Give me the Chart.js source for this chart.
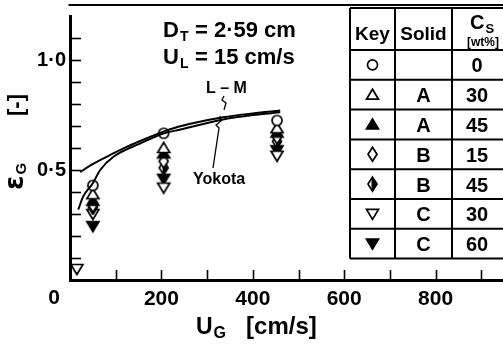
<!DOCTYPE html>
<html>
<head>
<meta charset="utf-8">
<script src="https://cdn.jsdelivr.net/npm/chart.js@4.4.1/dist/chart.umd.min.js"></script>
<style>
  html, body { margin: 0; padding: 0; background: #fff; overflow: hidden; }
  #wrap { width: 503px; height: 344px; overflow: hidden; position: relative; }
  canvas { display: block; }
</style>
</head>
<body>
<div id="wrap"><canvas id="holdup" width="540" height="344"></canvas></div>
<script>
// gas velocity of the measured clusters [cm/s]
const ugCluster = [50, 205, 453];
// gas holdup per key
const epsCs0 = [0.43, 0.667, 0.725];
const epsA30 = [0.39, 0.60, 0.69];
const epsA45 = [0.36, 0.575, 0.67];
const epsB15 = [0.34, 0.54, 0.65];
const epsB45 = [0.33, 0.51, 0.63];
const ugC30 = [15, 50, 205, 453];
const epsC30 = [0.05, 0.30, 0.42, 0.565];
const epsC60 = [0.245, 0.46, 0.59];

// correlation curves
const ugLM = [22, 44, 80, 124, 175, 219, 263, 335, 400, 460];
const epsLM = [0.49, 0.52, 0.56, 0.605, 0.65, 0.685, 0.71, 0.74, 0.757, 0.77];
const ugYokota = [18, 29, 50, 66, 95, 153, 206, 240, 335, 400, 460];
const epsYokota = [0.32, 0.38, 0.44, 0.50, 0.56, 0.62, 0.667, 0.683, 0.73, 0.75, 0.762];

// legend table
const tableKeys = ['circle', 'triUp', 'triUpFill', 'diamond', 'diamondHalf', 'triDown', 'triDownFill'];
const tableSolids = ['', 'A', 'A', 'B', 'B', 'C', 'C'];
const tableCs = ['0', '30', '45', '15', '45', '30', '60'];

const xTickLabels = [200, 400, 600, 800];
const yTickLabels = [0.5, 1.0];

function pts(xs, ys) {
  return ys.map((y, i) => ({ x: xs[i], y: y }));
}

// draw one marker shape centred at cx, cy
function drawMarker(g, kind, cx, cy) {
  g.save();
  g.lineWidth = 1.7;
  g.strokeStyle = '#000';
  g.fillStyle = '#fff';
  g.beginPath();
  if (kind === 'circle') {
    g.arc(cx, cy, 5, 0, Math.PI * 2);
  } else if (kind === 'triUp' || kind === 'triUpFill') {
    g.moveTo(cx, cy - 5.5); g.lineTo(cx + 6, cy + 4.5); g.lineTo(cx - 6, cy + 4.5); g.closePath();
  } else if (kind === 'triDown' || kind === 'triDownFill') {
    g.moveTo(cx - 6, cy - 4.5); g.lineTo(cx + 6, cy - 4.5); g.lineTo(cx, cy + 5.5); g.closePath();
  } else {
    g.moveTo(cx, cy - 7); g.lineTo(cx + 4.5, cy); g.lineTo(cx, cy + 7); g.lineTo(cx - 4.5, cy); g.closePath();
  }
  if (kind === 'triUpFill' || kind === 'triDownFill') g.fillStyle = '#000';
  g.fill();
  g.stroke();
  if (kind === 'diamondHalf') {
    g.beginPath();
    g.moveTo(cx - 1, cy - 5.5); g.lineTo(cx, cy - 7); g.lineTo(cx + 4.5, cy); g.lineTo(cx, cy + 7); g.lineTo(cx - 1, cy + 5.5);
    g.closePath();
    g.fillStyle = '#000';
    g.fill();
  }
  g.restore();
}

function markerImage(kind) {
  const c = document.createElement('canvas');
  c.width = 16; c.height = 16;
  drawMarker(c.getContext('2d'), kind, 8, 8);
  return c;
}

function scatter(label, data, kind) {
  return {
    type: 'scatter', label: label, data: data,
    pointStyle: markerImage(kind), pointRadius: 6, pointHoverRadius: 6
  };
}

function curve(label, data) {
  return {
    type: 'line', label: label, data: data,
    borderColor: '#000', borderWidth: 2, pointRadius: 0,
    cubicInterpolationMode: 'monotone', fill: false
  };
}

const FONT = '"Liberation Sans", Arial, sans-serif';

// text with a subscript, returns end x
function subText(g, main, sub, x, y, size, subSize) {
  g.font = 'bold ' + size + 'px ' + FONT;
  g.fillText(main, x, y);
  let w = g.measureText(main).width;
  g.font = 'bold ' + subSize + 'px ' + FONT;
  g.fillText(sub, x + w + 1, y + size * 0.18);
  return x + w + 1 + g.measureText(sub).width;
}

const decor = {
  id: 'decor',
  afterDraw(chart) {
    const g = chart.ctx;
    const xs = chart.scales.x, ys = chart.scales.y;
    const a = chart.chartArea;
    g.save();
    g.strokeStyle = '#000';
    g.fillStyle = '#000';

    // frame: top line, inward ticks
    g.lineWidth = 2;
    g.beginPath(); g.moveTo(a.left - 1.5, 5); g.lineTo(540, 5); g.stroke();
    g.lineWidth = 1.6;
    for (let v = 0.1; v < 1.2; v += 0.1) {
      const py = Math.round(ys.getPixelForValue(v)) + 0.5;
      g.beginPath(); g.moveTo(a.left, py); g.lineTo(a.left + 11, py); g.stroke();
    }
    for (let v = 100; v < 1000; v += 100) {
      const px = Math.round(xs.getPixelForValue(v)) + 0.5;
      g.beginPath(); g.moveTo(px, a.bottom); g.lineTo(px, a.bottom - 10); g.stroke();
    }

    // origin label
    g.font = 'bold 21px ' + FONT;
    g.textAlign = 'center'; g.textBaseline = 'alphabetic';
    g.fillText('0', 54, 304);

    // axis titles
    g.textAlign = 'left';
    let ex = subText(g, 'U', 'G', 196, 334, 23, 16);
    g.font = 'bold 24px ' + FONT;
    g.fillText('[cm/s]', ex + 20, 334);

    g.save();
    g.translate(23, 190);
    g.rotate(-Math.PI / 2);
    g.font = 'bold 26px "DejaVu Sans", sans-serif';
    g.fillText('\u03B5', 0, 0);
    let ew = g.measureText('\u03B5').width;
    g.font = 'bold 15px ' + FONT;
    g.fillText('G', ew + 1, 3);
    g.font = 'bold 22px ' + FONT;
    g.fillText('[-]', 74, 0);
    g.restore();

    // conditions
    subText(g, 'D', 'T', 163, 37, 22, 14);
    subText(g, 'U', 'L', 163, 64, 22, 14);
    g.font = 'bold 22px ' + FONT;
    g.fillText('= 2\u00B759 cm', 195, 37);
    g.fillText('= 15 cm/s', 195, 64);

    // curve labels and leaders
    g.font = 'bold 16px ' + FONT;
    g.fillText('L \u2013 M', 206, 93);
    g.fillText('Yokota', 193, 184);
    g.lineWidth = 1.3;
    g.beginPath();
    g.moveTo(224, 96); g.lineTo(222, 100); g.lineTo(226, 103); g.lineTo(224, 110);
    g.stroke();
    g.beginPath();
    g.moveTo(213, 168); g.lineTo(219, 128); g.lineTo(216, 125); g.lineTo(221, 121); g.lineTo(220, 116);
    g.stroke();

    // legend table
    const colX = [350, 395, 452, 506];
    const rowY = [8, 50];
    for (let i = 0; i < tableKeys.length; i++) rowY.push(50 + (i + 1) * 29.8);
    g.fillStyle = '#fff';
    g.fillRect(colX[0], rowY[0], colX[3] - colX[0], rowY[rowY.length - 1] - rowY[0]);
    g.fillStyle = '#000';
    g.lineWidth = 2;
    rowY.forEach(y => { g.beginPath(); g.moveTo(colX[0], y); g.lineTo(colX[3], y); g.stroke(); });
    colX.forEach(x => { g.beginPath(); g.moveTo(x, rowY[0]); g.lineTo(x, rowY[rowY.length - 1]); g.stroke(); });

    g.textAlign = 'center';
    g.font = 'bold 19px ' + FONT;
    g.fillText('Key', 372.5, 40);
    g.fillText('Solid', 423.5, 40);
    g.textAlign = 'left';
    subText(g, 'C', 'S', 470, 29, 20, 13);
    g.font = 'bold 12px ' + FONT;
    g.fillText('[wt%]', 467, 46);

    g.textAlign = 'center';
    tableKeys.forEach((k, i) => {
      const cy = (rowY[i + 1] + rowY[i + 2]) / 2;
      drawMarker(g, k, 372.5, cy);
      g.font = 'bold 20px ' + FONT;
      g.fillText(tableSolids[i], 423.5, cy + 7.5);
      g.fillText(tableCs[i], 477, cy + 7.5);
    });
    g.restore();
  }
};

new Chart(document.getElementById('holdup'), {
  data: {
    datasets: [
      curve('L-M', pts(ugLM, epsLM)),
      curve('Yokota', pts(ugYokota, epsYokota)),
      scatter('Cs 0', pts(ugCluster, epsCs0), 'circle'),
      scatter('A 30', pts(ugCluster, epsA30), 'triUp'),
      scatter('A 45', pts(ugCluster, epsA45), 'triUpFill'),
      scatter('B 15', pts(ugCluster, epsB15), 'diamond'),
      scatter('B 45', pts(ugCluster, epsB45), 'diamondHalf'),
      scatter('C 30', pts(ugC30, epsC30), 'triDown'),
      scatter('C 60', pts(ugCluster, epsC60), 'triDownFill')
    ]
  },
  options: {
    responsive: false,
    animation: false,
    layout: { padding: { top: 6, right: 13, left: 0, bottom: 0 } },
    plugins: { legend: { display: false }, tooltip: { enabled: false } },
    scales: {
      x: {
        type: 'linear', min: 0, max: 1000,
        afterFit: s => { s.height = 64; },
        grid: { display: false, drawTicks: false },
        border: { color: '#000', width: 3 },
        ticks: {
          stepSize: 100, autoSkip: false, maxRotation: 0, padding: 7,
          color: '#000', font: { family: FONT, size: 21, weight: 'bold' },
          callback: v => xTickLabels.includes(v) ? String(v) : ''
        }
      },
      y: {
        type: 'linear', min: 0, max: 1.2,
        afterFit: s => { s.width = 70; },
        grid: { display: false, drawTicks: false },
        border: { color: '#000', width: 3 },
        ticks: {
          stepSize: 0.1, autoSkip: false, padding: 4,
          color: '#000', font: { family: FONT, size: 20, weight: 'bold' },
          callback: v => yTickLabels.some(t => Math.abs(t - v) < 1e-6) ? v.toFixed(1).replace('.', '\u00B7') : ''
        }
      }
    }
  },
  plugins: [decor]
});
</script>
</body>
</html>
